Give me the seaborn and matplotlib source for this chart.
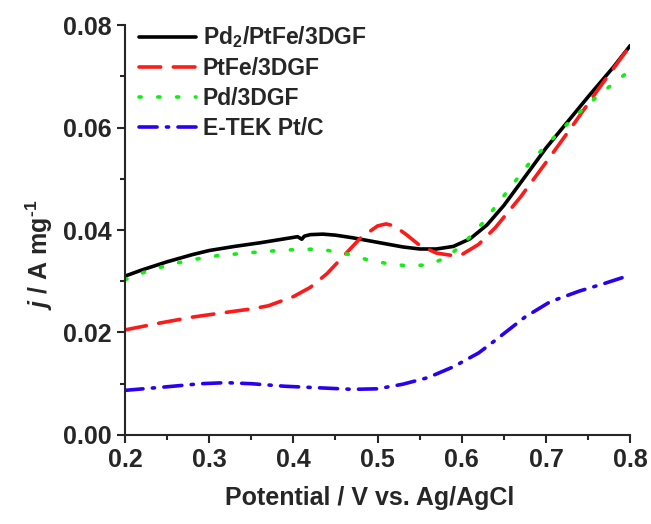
import numpy as np
import pandas as pd
import matplotlib
matplotlib.use("Agg")
import matplotlib.pyplot as plt
import seaborn as sns
from matplotlib.ticker import MultipleLocator

# ---------------------------------------------------------------------------
# Data
# ---------------------------------------------------------------------------

pd2_x = [0.20, 0.22, 0.25, 0.28, 0.30, 0.33, 0.36, 0.39, 0.405, 0.41, 0.413, 0.42,
         0.435, 0.45, 0.47, 0.49, 0.51, 0.53, 0.55, 0.57, 0.59, 0.61, 0.63, 0.65,
         0.68, 0.70, 0.72, 0.75, 0.78, 0.80]
pd2_y = [0.0310, 0.0322, 0.0338, 0.0352, 0.0360, 0.0368, 0.0375, 0.0383, 0.0387, 0.0382,
         0.0388, 0.0391, 0.0392, 0.0390, 0.0385, 0.0379, 0.0373, 0.0367, 0.0363, 0.0363,
         0.0368, 0.0383, 0.0410, 0.0448, 0.0515, 0.0560, 0.0600, 0.0660, 0.0718, 0.0760]

ptfe_x = [0.20, 0.24, 0.28, 0.31, 0.35, 0.37, 0.40, 0.42, 0.44, 0.46, 0.48, 0.50,
          0.51, 0.52, 0.535, 0.55, 0.57, 0.59, 0.60, 0.62, 0.64, 0.67, 0.70, 0.73,
          0.76, 0.80]
ptfe_y = [0.0205, 0.0218, 0.0230, 0.0237, 0.0246, 0.0252, 0.0270, 0.0288, 0.0315, 0.0350,
          0.0385, 0.0408, 0.0412, 0.0408, 0.0390, 0.0370, 0.0355, 0.0350, 0.0352, 0.0372,
          0.0405, 0.0465, 0.0532, 0.0600, 0.0670, 0.0760]

pd_x = [0.20, 0.23, 0.26, 0.29, 0.31, 0.35, 0.39, 0.43, 0.46, 0.49, 0.51, 0.535,
        0.56, 0.58, 0.60, 0.625, 0.66, 0.68, 0.70, 0.73, 0.76, 0.80]
pd_y = [0.0303, 0.0322, 0.0335, 0.0345, 0.0350, 0.0356, 0.0361, 0.0363, 0.0355, 0.0341,
        0.0335, 0.0330, 0.0332, 0.0345, 0.0370, 0.0414, 0.0488, 0.0530, 0.0565, 0.0615,
        0.0660, 0.0712]

etek_x = [0.20, 0.25, 0.29, 0.32, 0.35, 0.39, 0.43, 0.47, 0.50, 0.53, 0.56, 0.59,
          0.62, 0.64, 0.675, 0.705, 0.74, 0.77, 0.80]
etek_y = [0.0087, 0.0094, 0.0100, 0.0102, 0.0100, 0.0095, 0.0092, 0.0089, 0.0090, 0.0099,
          0.0112, 0.0133, 0.0160, 0.0185, 0.0230, 0.0260, 0.0281, 0.0296, 0.0312]

labels = ["Pd$_2$/PtFe/3DGF", "PtFe/3DGF", "Pd/3DGF", "E-TEK Pt/C"]
colors = ["black", "#ff1a1a", "#11ee11", "#2a00f0"]
styles = ["-", (0, (6, 3.5)), (0, (0.6, 4.6)), (0, (5, 2.6, 0.6, 2.6))]

# ---------------------------------------------------------------------------
# Style
# ---------------------------------------------------------------------------

sns.set_style("ticks")
plt.rcParams.update({
    "font.family": ["Liberation Sans", "DejaVu Sans"],
    "font.weight": "bold",
    "axes.labelweight": "bold",
    "mathtext.fontset": "custom",
    "mathtext.rm": "Liberation Sans:bold",
    "mathtext.it": "Liberation Sans:italic:bold",
    "mathtext.bf": "Liberation Sans:bold",
})

fig = plt.figure(figsize=(6.51, 5.24), dpi=100)
ax = fig.add_axes([0.192, 0.17, 0.776, 0.782])

series = [(pd2_x, pd2_y), (ptfe_x, ptfe_y), (pd_x, pd_y), (etek_x, etek_y)]
for (xs, ys), lab, col, ls in zip(series, labels, colors, styles):
    df = pd.DataFrame({"x": xs, "y": ys})
    caps = "butt" if ls == "-" else "round"
    sns.lineplot(data=df, x="x", y="y", ax=ax, color=col, label=lab,
                 linewidth=2.6, linestyle=ls, dash_capstyle=caps)

ax.set_xlim(0.2, 0.8)
ax.set_ylim(0.0, 0.08)
ax.xaxis.set_major_locator(MultipleLocator(0.1))
ax.xaxis.set_minor_locator(MultipleLocator(0.05))
ax.yaxis.set_major_locator(MultipleLocator(0.02))
ax.yaxis.set_minor_locator(MultipleLocator(0.01))
ax.set_xticklabels([f"{v:.1f}" for v in ax.get_xticks()])
ax.set_yticklabels([f"{v:.2f}" for v in ax.get_yticks()])

ax.tick_params(axis="both", which="major", length=6, width=1.5, labelsize=18, direction="out")
ax.tick_params(axis="both", which="minor", length=3.5, width=1.5, direction="out")
for side in ["left", "bottom"]:
    ax.spines[side].set_linewidth(1.5)
ax.spines["top"].set_visible(False)
ax.spines["right"].set_visible(False)

ax.set_xlabel("Potential / V vs. Ag/AgCl", fontsize=18, labelpad=10)
ax.set_ylabel(r"$j$ / A mg$^{\text{-1}}$", fontsize=18, labelpad=6)
# the original labels sit slightly off-centre
ax.xaxis.label.set_x(0.485)
ax.yaxis.label.set_y(0.44)

ax.legend(loc="upper left", frameon=False, fontsize=16.5, handlelength=2.5,
          borderaxespad=0.2, labelspacing=0.3, handletextpad=0.3,
          bbox_to_anchor=(0.0, 1.035))

fig.savefig("out.png", dpi=100)
